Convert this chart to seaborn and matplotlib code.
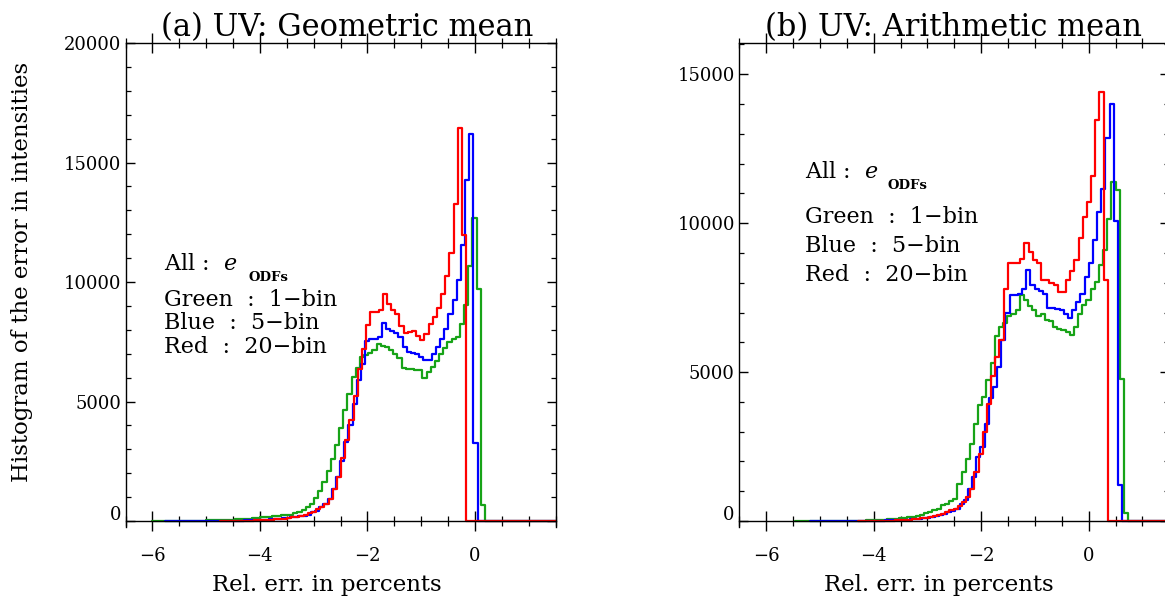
import numpy as np
import pandas as pd
import matplotlib
matplotlib.use("Agg")
import matplotlib.pyplot as plt
import matplotlib.transforms as mtransforms
from matplotlib.ticker import MultipleLocator
import seaborn as sns

# ---------------- data (counts per bin) ----------------
BIN_W = 0.0775

# Panel (a) UV: Geometric mean
a_green_start = -6.014
a_green = [2, 3, 3, 4, 5, 6, 7, 9, 10, 12, 14, 17, 20, 24, 28, 33, 38, 45, 52, 60,
           70, 80, 92, 105, 120, 135, 150, 165, 180, 200, 220, 240, 255,
           270, 320, 380, 470, 590, 720, 950, 1250, 1650, 2100, 2600, 3160, 3900,
           4660, 5320, 6020, 6400, 6870, 6960, 7020, 7140, 7420, 7340, 7300, 7160,
           7000, 6830, 6420, 6350, 6380, 6300, 6300, 6000, 6230, 6440, 6710, 7000,
           7250, 7490, 7620, 7700, 8250, 9050, 10690, 12690, 9716, 650,
           0, 0, 0, 0, 0, 0, 0, 0, 0, 0, 0, 0, 0, 0, 0, 0, 0]

a_blue_start = -5.7625
a_blue = [1, 1, 1, 1, 1, 2, 2, 2, 3, 3, 4, 5, 6, 7, 9, 11, 13, 16, 20, 24, 29, 35,
          42, 50, 60, 70, 82, 96, 112, 130, 150, 175, 200, 230,
          270, 370, 440, 580, 720, 930, 1350, 1860, 2500, 3300, 4000, 4900, 5900,
          6580, 7550, 7620, 7620, 7690, 8300, 8050, 7950, 7850, 7690, 7300, 7070,
          7040, 7000, 6880, 6740, 6720, 7000, 7300, 7620, 8040, 8670, 9250, 10090,
          11530, 14250, 16175, 3257,
          0, 0, 0, 0, 0, 0, 0, 0, 0, 0, 0, 0, 0, 0, 0, 0, 0, 0, 0]

a_red_start = -4.7375
a_red = [1, 2, 3, 4, 6, 8, 12, 17, 23, 30, 38, 48, 60, 72, 88, 105, 125, 150, 180, 210,
         250, 330, 370, 510, 600, 720, 930, 1350, 1860, 2640, 3400, 4230, 5250, 6370,
         7200, 8220, 8740, 8740, 8835, 9510, 9060, 8810, 8670, 8180, 7860, 7900,
         7930, 7760, 7580, 7830, 8250, 8530, 8920, 9480, 10270, 11200, 13250,
         16450, 11950,
         0, 0, 0, 0, 0, 0, 0, 0, 0, 0, 0, 0, 0, 0, 0, 0, 0, 0, 0, 0, 0, 0]

# Panel (b) UV: Arithmetic mean
b_green_start = -5.466
b_green = [1, 1, 1, 1, 2, 2, 2, 3, 3, 4, 5, 6, 7, 9, 11, 14, 17, 20, 25, 30, 36, 43,
           52, 62, 74, 88, 105, 125, 150, 180, 215, 255, 300, 360, 420,
           530, 580, 670, 750, 1250, 1650, 2090, 2600, 3270, 3880, 4160, 4720, 5300,
           6200, 6500, 6650, 6870, 6940, 7100, 7580, 7410, 7210, 7070, 6900, 6960,
           6740, 6720, 6510, 6450, 6420, 6340, 6230, 6510, 6960, 7270, 7410, 7800,
           8020, 8580, 9090, 10150, 11380, 11100, 4780, 270,
           0, 0, 0, 0, 0, 0, 0, 0, 0, 0]

b_blue_start = -5.1905
b_blue = [1, 1, 1, 1, 1, 2, 2, 2, 3, 3, 4, 5, 6, 7, 9, 11, 13, 16, 20, 24, 29, 35,
          42, 50, 59, 70, 82, 97, 115, 135, 160, 190,
          220, 300, 330, 410, 580, 700, 1090, 1480, 2150, 2480, 3270, 4140, 4500,
          5170, 6090, 6980, 7580, 7580, 7630, 7800, 8440, 7910, 7800, 7710, 7630,
          7160, 7160, 7130, 7070, 6960, 6830, 7070, 7350, 7610, 8190, 8660, 9420,
          10370, 11160, 12870, 14000, 10090, 1200,
          0, 0, 0, 0, 0, 0, 0, 0, 0, 0, 0, 0]

b_red_start = -4.295
b_red = [1, 2, 3, 4, 5, 7, 10, 13, 17, 22, 28, 36, 46, 58, 72, 90, 110, 135, 165, 200,
         250, 320, 360, 410, 490, 640, 800, 1090, 1650, 2260, 2990, 3940, 4860,
         5510, 6090, 7800, 8670, 8670, 8670, 8800, 9330, 9030, 8750, 8660, 8100,
         8080, 7990, 7910, 7690, 7690, 8080, 8390, 8770, 9500, 10200, 10710,
         11600, 13480, 14400, 8080,
         0, 0, 0, 0, 0, 0, 0, 0, 0, 0, 0, 0, 0, 0, 0]

titles = ["(a) UV: Geometric mean", "(b) UV: Arithmetic mean"]
x_label = "Rel. err. in percents"
y_label = "Histogram of the error in intensities"
legend_lines = ["Green  :  1\u2212bin", "Blue  :  5\u2212bin", "Red  :  20\u2212bin"]

GREEN = "#17a317"
BLUE = "#0000ff"
RED = "#ff0000"

# ---------------- style ----------------
sns.set_theme(style="ticks")
plt.rcParams["font.family"] = ["DejaVu Serif"]
plt.rcParams["mathtext.fontset"] = "dejavuserif"
plt.rcParams["axes.unicode_minus"] = True
for key in ("text.color", "axes.labelcolor", "xtick.color", "ytick.color",
            "axes.edgecolor"):
    plt.rcParams[key] = "black"

W, H = 1165, 604
fig = plt.figure(figsize=(W / 100, H / 100), dpi=100)
fig.patch.set_facecolor("white")

bottom_px, top_px = 527, 43
ax_h = (bottom_px - top_px) / H
ax_b = 1 - bottom_px / H
ax_w = 430 / W
axA = fig.add_axes([125.5 / W, ax_b, ax_w, ax_h])
axB = fig.add_axes([739.3 / W, ax_b, ax_w, ax_h])


def draw_hist(ax, start, vals, color):
    # histogram outline: bin edges with the count of each bin (steps-post)
    e = start + BIN_W * np.arange(len(vals) + 1)
    h = np.append(np.asarray(vals, dtype=float), vals[-1])
    df = pd.DataFrame({"edge": e, "count": h})
    sns.lineplot(data=df, x="edge", y="count", drawstyle="steps-post",
                 estimator=None, sort=False, color=color, linewidth=1.6, ax=ax)


panels = [
    (axA, [(a_green_start, a_green, GREEN), (a_blue_start, a_blue, BLUE),
           (a_red_start, a_red, RED)], (-250, 20000), 0.515, 0.4674),
    (axB, [(b_green_start, b_green, GREEN), (b_blue_start, b_blue, BLUE),
           (b_red_start, b_red, RED)], (-200, 16050), 0.499, 0.464),
]

for i, (ax, series, ylim, tx, lx) in enumerate(panels):
    for start, vals, col in series:
        draw_hist(ax, start, vals, col)
    ax.set_xlim(-6.5, 1.5)
    ax.spines["bottom"].set_position(("data", 0))
    for s in ax.spines.values():
        s.set_linewidth(1.0)
        s.set_color("black")
    ax.xaxis.set_major_locator(MultipleLocator(2))
    ax.xaxis.set_minor_locator(MultipleLocator(0.5))
    ax.yaxis.set_minor_locator(MultipleLocator(1000))
    ax.set_yticks([0, 5000, 10000, 15000, 20000] if i == 0 else [0, 5000, 10000, 15000])
    ax.set_ylim(*ylim)
    ax.tick_params(axis="x", which="major", direction="inout", length=15, width=1.0,
                   top=True, bottom=True, labelsize=13, pad=11, colors="black")
    ax.tick_params(axis="x", which="minor", direction="inout", length=7.5, width=0.9,
                   top=True, bottom=True)
    ax.tick_params(axis="y", which="major", direction="in", length=6.5, width=1.0,
                   left=True, right=True, labelsize=13, pad=3.2, colors="black")
    ax.tick_params(axis="y", which="minor", direction="in", length=3.4, width=0.9,
                   left=True, right=True)
    ax.set_xlabel(x_label, fontsize=16.5)
    ax.xaxis.set_label_coords(lx, -0.097)
    if i == 0:
        ax.set_ylabel(y_label, fontsize=16.5)
        ax.yaxis.set_label_coords(-0.214, 0.527)
    else:
        ax.set_ylabel("")
    ax.set_title(titles[i], fontsize=22, pad=5, x=tx)
    ax.grid(False)
    if ax.get_legend() is not None:
        ax.get_legend().remove()

# raise the "0" tick label a little, as in the reference
fig.canvas.draw()
for ax in (axA, axB):
    for lab in ax.get_yticklabels():
        if lab.get_text() in ("0",):
            off = mtransforms.ScaledTranslation(0, 8 / 100, fig.dpi_scale_trans)
            lab.set_transform(lab.get_transform() + off)


def note(ax, x0, y_all, y_lines, sub_x, sub_y):
    ax.text(x0, y_all, r"All :  $\mathit{e}$", fontsize=16, va="center", ha="left")
    ax.text(sub_x, sub_y, "ODFs", fontsize=9.5, fontweight="bold", va="center", ha="left")
    for txt, yy in zip(legend_lines, y_lines):
        ax.text(x0, yy, txt, fontsize=16, va="center", ha="left")


note(axA, -5.775, 10760, [9255, 8276, 7272], -4.22, 10190)
note(axB, -5.27, 11710, [10220, 9246, 8245], -3.74, 11266)

fig.savefig("out.png", dpi=100, facecolor="white")
